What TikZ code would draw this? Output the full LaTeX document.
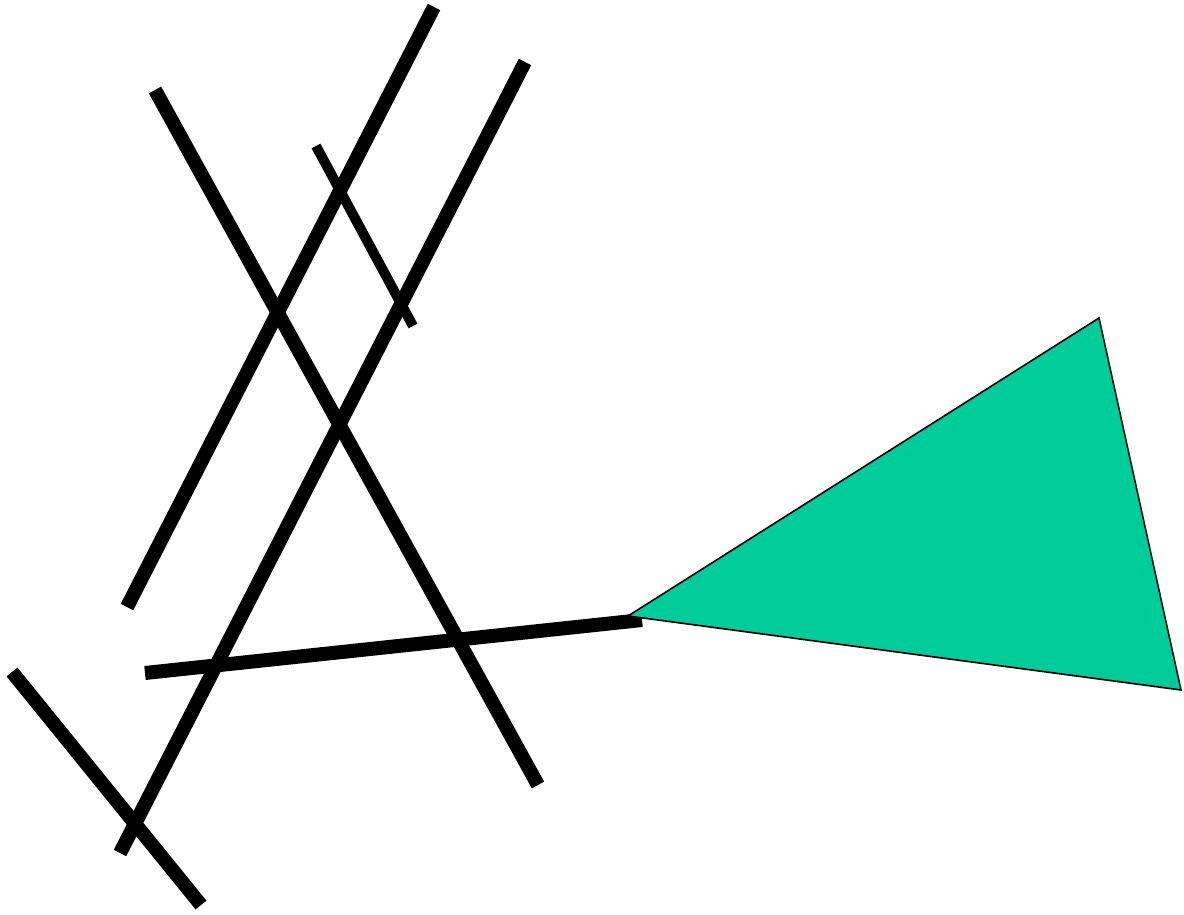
\documentclass[tikz,border=0pt]{standalone}
\definecolor{tealgreen}{HTML}{00CC99}
\begin{document}
\begin{tikzpicture}[x=1pt, y=-1pt,
    bar/.style={black, line width=14pt, line cap=butt},
    thinbar/.style={black, line width=10pt, line cap=butt}]
    \useasboundingbox (0,0) rectangle (1184,915);

    % Crossing bars
    \draw[bar] (434,7) -- (127,607);
    \draw[bar] (525,62) -- (120,853);
    \draw[bar] (155,90) -- (538,785);
    \draw[thinbar] (316,146) -- (413,326);
    \draw[bar] (145,673) -- (642,620);
    \draw[bar] (12,672) -- (201,905);

    % Triangle
    \draw[fill=tealgreen, line width=1.6pt, line join=miter] (628,616) -- (1099,318) -- (1181,690) -- cycle;
\end{tikzpicture}
\end{document}
